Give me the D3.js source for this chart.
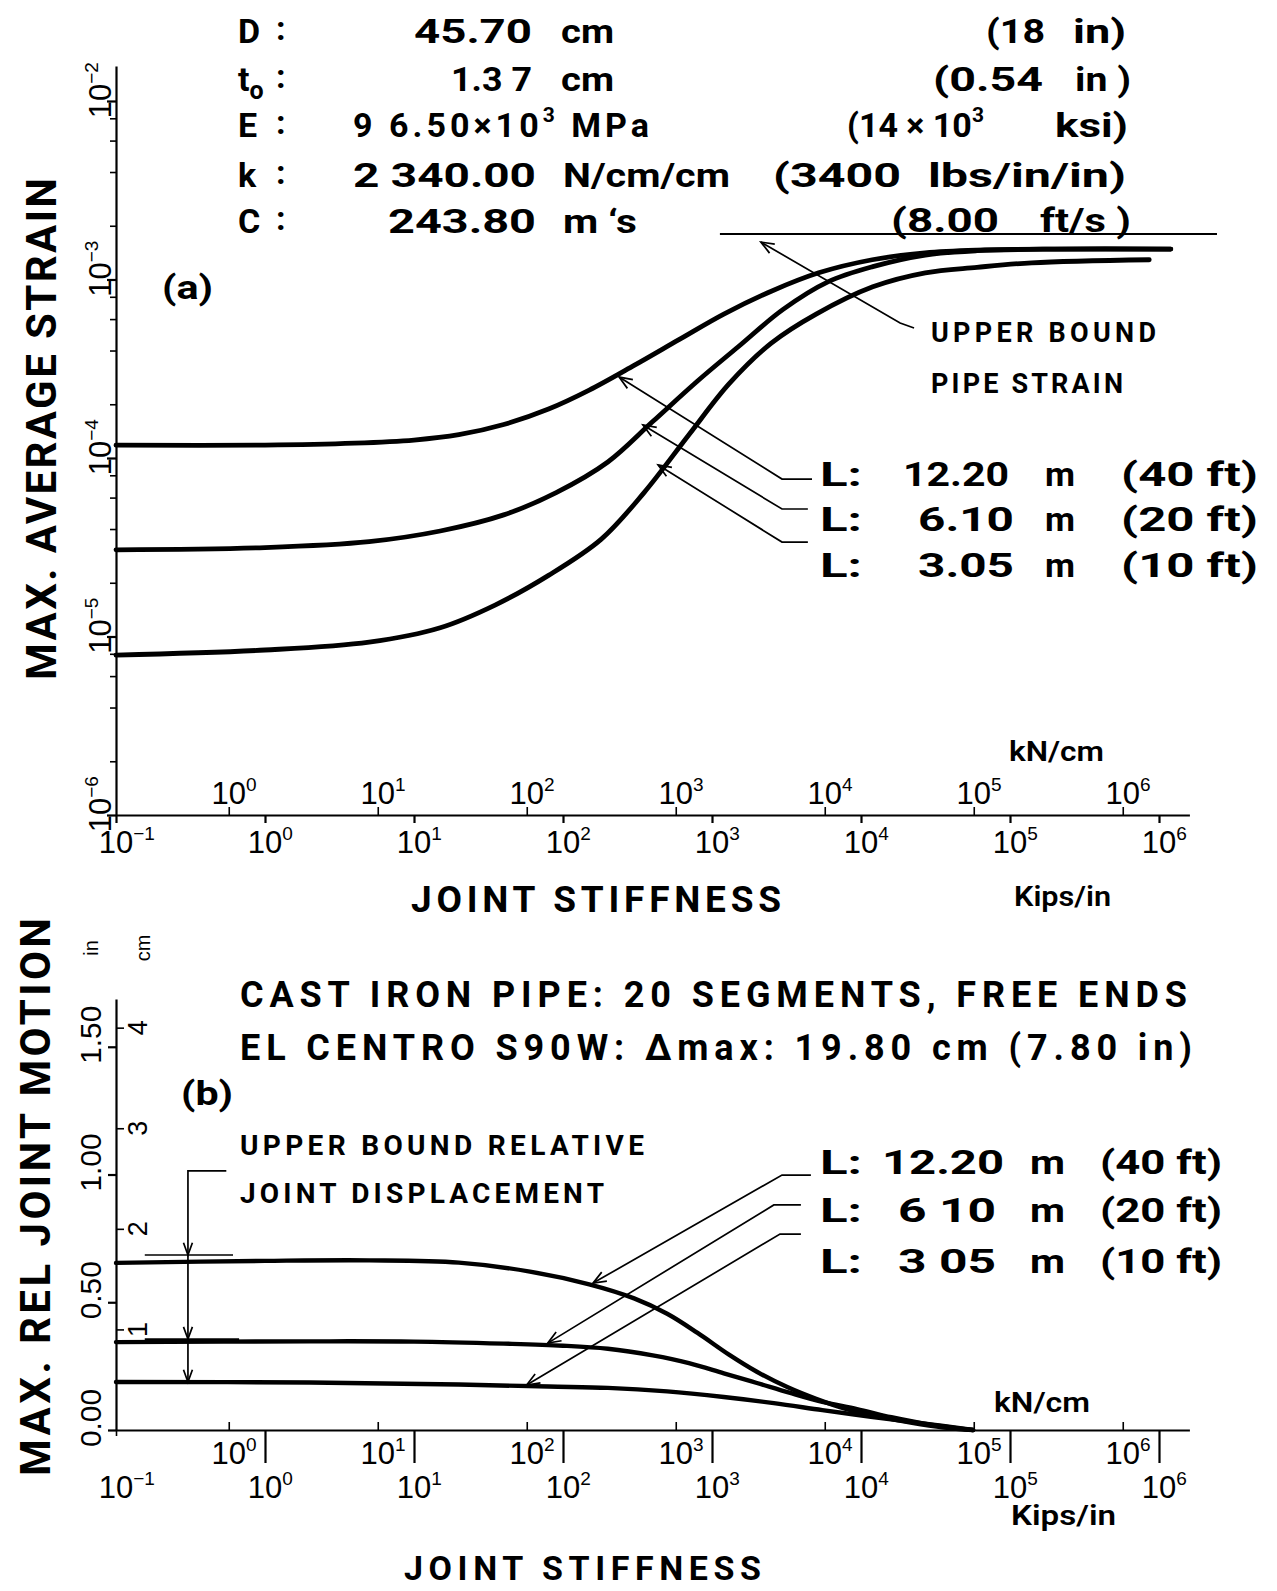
<!DOCTYPE html>
<html><head><meta charset="utf-8">
<script src="https://cdn.jsdelivr.net/npm/d3@7"></script>
<style>body{margin:0;background:#fff}svg{display:block}</style>
</head><body>
<svg id="c" width="1277" height="1591"></svg>
<script>
// ---------------- DATA ----------------
const kipsDecades = [1e-1, 1e0, 1e1, 1e2, 1e3, 1e4, 1e5, 1e6];
const kipsExp = ["\u22121", "0", "1", "2", "3", "4", "5", "6"];
const kNDecades = [1e0, 1e1, 1e2, 1e3, 1e4, 1e5, 1e6];
const kNExp = ["0", "1", "2", "3", "4", "5", "6"];
const KN_PER_KIP = 1.751;
const strainMajor = [1e-6, 1e-5, 1e-4, 1e-3, 1e-2];
const strainExp = ["\u22126", "\u22125", "\u22124", "\u22123", "\u22122"];
const strainMinorMult = [2, 4, 6, 8];
const motionTicksIn = [0, 0.5, 1.0, 1.5];
const motionLabelsIn = ["0.00", "0.50", "1.00", "1.50"];
const motionTicksCm = [1, 2, 3, 4];
const motionLabelsCm = ["1", "2", "3", "4"];
const CM_PER_IN = 2.54;

// (a) max average strain vs joint stiffness (kips/in)
const strainL1220 = [[0.1,1.18e-4],[1,1.18e-4],[4,1.21e-4],[10,1.26e-4],[20,1.35e-4],[40,1.54e-4],[80,1.88e-4],[150,2.4e-4],[300,3.3e-4],[600,4.6e-4],[1200,6.4e-4],[2500,8.6e-4],[5200,1.09e-3],[11900,1.29e-3],[26900,1.41e-3],[60000,1.46e-3],[2e5,1.48e-3],[1.2e6,1.48e-3]];
const strainL610 = [[0.1,3.06e-5],[1,3.15e-5],[5,3.4e-5],[15,3.9e-5],[40,4.8e-5],[90,6.4e-5],[200,9.5e-5],[400,1.6e-4],[800,2.7e-4],[1500,4.2e-4],[3000,6.8e-4],[6000,9.7e-4],[12000,1.18e-3],[27000,1.37e-3],[60000,1.45e-3],[2e5,1.48e-3],[1.2e6,1.48e-3]];
const strainL305 = [[0.1,7.87e-6],[1,8.4e-6],[5,9.3e-6],[15,1.12e-5],[35,1.5e-5],[80,2.2e-5],[180,3.5e-5],[350,6.4e-5],[700,1.35e-4],[1300,2.6e-4],[2500,4.4e-4],[5000,6.4e-4],[12000,9.1e-4],[27000,1.09e-3],[60000,1.17e-3],[1.4e5,1.24e-3],[8.6e5,1.29e-3]];
const upperBoundStrain = 1.8e-3;
const upperBoundStrainSpan = [1130, 2.45e6];

// (b) max relative joint motion (in) vs joint stiffness (kips/in)
const motionL1220 = [[0.1,0.654],[1,0.662],[5,0.664],[20,0.655],[60,0.62],[150,0.57],[300,0.515],[500,0.455],[800,0.38],[1300,0.295],[2000,0.228],[3200,0.168],[5000,0.122],[8000,0.082],[13000,0.053],[22000,0.028],[36000,0.01],[56500,0]];
const motionL610 = [[0.1,0.344],[2,0.347],[10,0.346],[40,0.338],[100,0.33],[200,0.318],[400,0.292],[700,0.262],[1200,0.222],[2000,0.184],[3300,0.146],[5500,0.11],[9400,0.082],[16000,0.05],[30000,0.02],[56500,0]];
const motionL305 = [[0.1,0.188],[2,0.186],[20,0.178],[80,0.17],[200,0.165],[500,0.151],[1200,0.129],[2600,0.105],[5500,0.078],[12000,0.051],[26000,0.026],[56500,0]];
const upperBoundMotion = [0.685, 0.356];

// leader / annotation anchor points (data space)
const leadersA = [
  [[238,2.84e-4],[2950,7.62e-5],[4690,7.62e-5]],
  [[344,1.53e-4],[2950,5.18e-5],[4400,5.18e-5]],
  [[435,9.14e-5],[2950,3.38e-5],[4400,3.38e-5]]
];
const leaderUB_A = [[2130,1.62e-3],[18300,5.7e-4],[22700,5.35e-4]];
const leadersB = [
  [[159,0.575],[2950,0.998],[4610,0.998]],
  [[79,0.34],[2600,0.881],[3950,0.881]],
  [[57,0.176],[2860,0.767],[3950,0.767]]
];

// ---------------- SCALES ----------------
const svg = d3.select("#c");
const x = d3.scaleLog().domain([0.1, 1.6e6]).range([116, 116 + 149 * Math.log10(1.6e7)]);
const xkN = d3.scaleLog().domain(x.domain().map(d => d * KN_PER_KIP)).range(x.range());
const yA = d3.scaleLog().domain([1e-6, Math.pow(10, -1.804)]).range([815, 66]);
const yB = d3.scaleLinear().domain([0, 1.687]).range([1430, 999]);
const yBcm = d3.scaleLinear().domain([0, 1.687 * CM_PER_IN]).range(yB.range());

const TICKFONT = "'Liberation Sans', Arial, sans-serif";
const BOLDFONT = "Roboto, 'DejaVu Sans', sans-serif";

function txt(g, xx, yy, s, size, opts = {}) {
  const t = g.append("text").attr("x", xx).attr("y", yy).text(s)
    .attr("font-size", size)
    .attr("font-family", opts.family || BOLDFONT)
    .attr("font-weight", opts.weight || "bold")
    .attr("fill", "#000");
  if (opts.len) t.attr("textLength", opts.len).attr("lengthAdjust", opts.adj || "spacingAndGlyphs");
  if (opts.anchor) t.attr("text-anchor", opts.anchor);
  return t;
}
function rich(g, xx, yy, parts, len) {
  const t = g.append("text").attr("x", xx).attr("y", yy)
    .attr("font-family", BOLDFONT).attr("font-weight", "bold").attr("fill", "#000");
  parts.forEach(p => t.append("tspan").text(p[0]).attr("font-size", p[1]).attr("dy", p[2] || 0));
  if (len) t.attr("textLength", len).attr("lengthAdjust", "spacing");
  return t;
}
function pow10(g, cx, by, exp) {
  const fs = 31;
  const t = g.append("text").attr("x", cx - 0.556 * fs).attr("y", by)
    .attr("font-family", TICKFONT).attr("font-size", fs).attr("fill", "#000");
  t.append("tspan").text("10");
  t.append("tspan").attr("dy", -13).attr("font-size", 19).text(exp);
}
function styleAxis(g, w) {
  g.selectAll("path,line").attr("stroke", "#000").attr("stroke-width", w);
  g.selectAll("text").remove();
}
function arrowHead(g, tip, from, len = 14, ang = 0.38) {
  const a = Math.atan2(from[1] - tip[1], from[0] - tip[0]);
  const p1 = [tip[0] + len * Math.cos(a + ang), tip[1] + len * Math.sin(a + ang)];
  const p2 = [tip[0] + len * Math.cos(a - ang), tip[1] + len * Math.sin(a - ang)];
  g.append("path").attr("d", `M${p1}L${tip}L${p2}`).attr("fill", "none")
    .attr("stroke", "#000").attr("stroke-width", 1.7);
}
function leader(g, pts, ys) {
  const px = pts.map(p => [x(p[0]), ys(p[1])]);
  g.append("path").attr("d", d3.line()(px)).attr("fill", "none")
    .attr("stroke", "#000").attr("stroke-width", 1.7);
  arrowHead(g, px[0], px[1]);
}

// ---------------- PANEL (a) ----------------
const ga = svg.append("g");
const x0 = x.range()[0];
const axA = ga.append("g").attr("transform", `translate(0,${yA(1e-6)})`)
  .call(d3.axisBottom(x).tickValues(kipsDecades).tickSize(8).tickSizeOuter(0));
styleAxis(axA, 2.2);
const axAkN = ga.append("g").attr("transform", `translate(0,${yA(1e-6)})`)
  .call(d3.axisTop(xkN).tickValues(kNDecades).tickSize(8).tickSizeOuter(0));
axAkN.select(".domain").remove(); styleAxis(axAkN, 1.6);
const minors = [];
strainMajor.slice(0, 4).forEach(m => strainMinorMult.forEach(k => minors.push(m * k)));
const ayA = ga.append("g").attr("transform", `translate(${x0},0)`)
  .call(d3.axisLeft(yA).tickValues(strainMajor).tickSize(9).tickSizeOuter(0));
styleAxis(ayA, 2.2);
const ayAm = ga.append("g").attr("transform", `translate(${x0},0)`)
  .call(d3.axisLeft(yA).tickValues(minors).tickSize(6).tickSizeOuter(0));
ayAm.select(".domain").remove(); styleAxis(ayAm, 1.6);
kipsDecades.forEach((d, i) => pow10(ga, x(d), yA(1e-6) + 38, kipsExp[i]));
kNDecades.forEach((d, i) => pow10(ga, xkN(d), yA(1e-6) - 11, kNExp[i]));
strainMajor.forEach((d, i) => {
  const gg = ga.append("g").attr("transform", `translate(111,${yA(d)}) rotate(-90)`);
  pow10(gg, 0, 0, strainExp[i]);
});
const lineA = d3.line().x(d => x(d[0])).y(d => yA(d[1])).curve(d3.curveCatmullRom.alpha(0.5));
[strainL1220, strainL610, strainL305].forEach(s =>
  ga.append("path").attr("d", lineA(s)).attr("fill", "none").attr("stroke", "#000")
    .attr("stroke-width", 4.8).attr("stroke-linecap", "round"));
ga.append("line").attr("x1", x(upperBoundStrainSpan[0])).attr("x2", x(upperBoundStrainSpan[1]))
  .attr("y1", yA(upperBoundStrain)).attr("y2", yA(upperBoundStrain))
  .attr("stroke", "#000").attr("stroke-width", 2);
leader(ga, leaderUB_A, yA);
leadersA.forEach(l => leader(ga, l, yA));

// parameter block
const P = 34;
const rows = [43, 91, 137, 187, 233];
["D", "", "E", "k", "C"].forEach((s, i) => { if (s) txt(ga, 238, rows[i], s, P); txt(ga, 276, rows[i] - 3, ":", P); });
rich(ga, 238, 91, [["t", P], ["o", 25, 8]]);
txt(ga, 414, 43, "45.70", P, { len: 118 }); txt(ga, 561, 43, "cm", P, { len: 53 });
txt(ga, 986, 43, "(18", P, { len: 59 }); txt(ga, 1073, 43, "in)", P, { len: 53 });
txt(ga, 451, 91, "1.3 7", P, { len: 81 }); txt(ga, 561, 91, "cm", P, { len: 53 });
txt(ga, 933, 91, "(0.54", P, { len: 110 }); txt(ga, 1075, 91, "in )", P, { len: 56 });
rich(ga, 353, 137, [["9 6.50\u00d710", P], ["3", 21, -15], [" MPa", P, 15]], 296);
rich(ga, 847, 137, [["(14 \u00d7 10", P], ["3", 21, -15]]);
txt(ga, 1055, 137, "ksi)", P, { len: 73 });
txt(ga, 353, 187, "2 340.00", P, { len: 183 }); txt(ga, 563, 187, "N/cm/cm", P, { len: 167 });
txt(ga, 773, 187, "(3400", P, { len: 128 }); txt(ga, 928, 187, "lbs/in/in)", P, { len: 198 });
txt(ga, 388, 233, "243.80", P, { len: 148 }); txt(ga, 563, 233, "m \u2018s", P, { len: 74 });
txt(ga, 891, 232, "(8.00", P, { len: 108 }); txt(ga, 1040, 232, "ft/s )", P, { len: 91 });

txt(ga, 162, 299, "(a)", P, { len: 51 });
txt(ga, 931, 342, "UPPER BOUND", 27, { len: 225, adj: "spacing" });
txt(ga, 931, 393, "PIPE STRAIN", 27, { len: 192, adj: "spacing" });
const rowsA = [486, 531, 577];
const Lvals = ["12.20", "6.10", "3.05"], Ftvals = ["(40 ft)", "(20 ft)", "(10 ft)"];
rowsA.forEach((yy, i) => {
  txt(ga, 820, yy, "L:", P, { len: 42 });
  txt(ga, i === 0 ? 903 : 918, yy, Lvals[i], P, { len: i === 0 ? 106 : 96 });
  txt(ga, 1045, yy, "m", P, { len: 30 });
  txt(ga, 1121, yy, Ftvals[i], P, { len: 137 });
});
txt(ga, 1009, 761, "kN/cm", 27, { len: 95, weight: 600 });
txt(ga, 1014, 906, "Kips/in", 27, { len: 97, weight: 600 });
txt(ga, 411, 912, "JOINT STIFFNESS", 37, { len: 370, adj: "spacing" });
ga.append("g").attr("transform", "translate(56,429) rotate(-90)")
  .call(g => txt(g, 0, 0, "MAX. AVERAGE STRAIN", 42, { len: 502, adj: "spacing", anchor: "middle" }));

// ---------------- PANEL (b) ----------------
const gb = svg.append("g");
const axB = gb.append("g").attr("transform", `translate(0,${yB(0)})`)
  .call(d3.axisBottom(x).tickValues(kipsDecades.slice(1)).tickSize(33).tickSizeOuter(0));
styleAxis(axB, 2.2);
const axB0 = gb.append("g").attr("transform", `translate(0,${yB(0)})`)
  .call(d3.axisBottom(x).tickValues([kipsDecades[0]]).tickSize(6).tickSizeOuter(0));
axB0.select(".domain").remove(); styleAxis(axB0, 1.6);
const axBkN = gb.append("g").attr("transform", `translate(0,${yB(0)})`)
  .call(d3.axisTop(xkN).tickValues(kNDecades).tickSize(8).tickSizeOuter(0));
axBkN.select(".domain").remove(); styleAxis(axBkN, 1.6);
const ayB = gb.append("g").attr("transform", `translate(${x0},0)`)
  .call(d3.axisLeft(yB).tickValues(motionTicksIn).tickSize(8).tickSizeOuter(0));
styleAxis(ayB, 2.2);
const ayBcm = gb.append("g").attr("transform", `translate(${x0},0)`)
  .call(d3.axisRight(yBcm).tickValues(motionTicksCm).tickSize(8).tickSizeOuter(0));
ayBcm.select(".domain").remove(); styleAxis(ayBcm, 1.6);
kipsDecades.forEach((d, i) => pow10(gb, x(d), yB(0) + 68, kipsExp[i]));
kNDecades.forEach((d, i) => pow10(gb, xkN(d), yB(0) + 34, kNExp[i]));
motionTicksIn.forEach((d, i) => {
  const gg = gb.append("g").attr("transform", `translate(101,${yB(d) - 12}) rotate(-90)`);
  txt(gg, 0, 0, motionLabelsIn[i], 30, { family: TICKFONT, weight: "normal", anchor: "middle", len: 58 });
});
motionTicksCm.forEach((d, i) => {
  const gg = gb.append("g").attr("transform", `translate(147,${yBcm(d)}) rotate(-90)`);
  txt(gg, 0, 0, motionLabelsCm[i], 27, { family: TICKFONT, weight: "normal", anchor: "middle" });
});
const lineB = d3.line().x(d => x(d[0])).y(d => yB(d[1])).curve(d3.curveCatmullRom.alpha(0.5));
[motionL1220, motionL610, motionL305].forEach(s =>
  gb.append("path").attr("d", lineB(s)).attr("fill", "none").attr("stroke", "#000")
    .attr("stroke-width", 4.4).attr("stroke-linecap", "round"));
const ubX = 0.304;
upperBoundMotion.forEach((v, i) =>
  gb.append("line").attr("x1", x(0.156)).attr("x2", x(i === 0 ? 0.61 : 0.67))
    .attr("y1", yB(v)).attr("y2", yB(v)).attr("stroke", "#000").attr("stroke-width", 1.7));
gb.append("path").attr("d", d3.line()([[x(0.55), yB(1.014)], [x(ubX), yB(1.014)], [x(ubX), yB(0.188)]]))
  .attr("fill", "none").attr("stroke", "#000").attr("stroke-width", 1.7);
[upperBoundMotion[0], upperBoundMotion[1], 0.188].forEach(v =>
  arrowHead(gb, [x(ubX), yB(v)], [x(ubX), yB(v) - 20], 13, 0.35));
leadersB.forEach(l => leader(gb, l, yB));

txt(gb, 240, 1007, "CAST IRON PIPE: 20 SEGMENTS, FREE ENDS", 36, { len: 947, adj: "spacing" });
txt(gb, 240, 1060, "EL CENTRO S90W: \u0394max: 19.80 cm  (7.80 in)", 36, { len: 952, adj: "spacing" });
txt(gb, 181, 1105, "(b)", P, { len: 52 });
txt(gb, 240, 1155, "UPPER BOUND RELATIVE", 28, { len: 404, adj: "spacing" });
txt(gb, 240, 1203, "JOINT DISPLACEMENT", 28, { len: 364, adj: "spacing" });
const rowsB = [1174, 1222, 1273];
const LvalsB = ["12.20", "6 10", "3 05"];
rowsB.forEach((yy, i) => {
  txt(gb, 820, yy, "L:", P, { len: 42 });
  txt(gb, i === 0 ? 882 : 898, yy, LvalsB[i], P, { len: i === 0 ? 122 : 98 });
  txt(gb, 1030, yy, "m", P, { len: 35 });
  txt(gb, 1100, yy, Ftvals[i], P, { len: 122 });
});
txt(gb, 994, 1412, "kN/cm", 27, { len: 96, weight: 600 });
txt(gb, 1011, 1525, "Kips/in", 27, { len: 105, weight: 600 });
txt(gb, 404, 1580, "JOINT STIFFNESS", 34, { len: 357, adj: "spacing" });
gb.append("g").attr("transform", "translate(50,1197) rotate(-90)")
  .call(g => txt(g, 0, 0, "MAX. REL JOINT MOTION", 42, { len: 558, adj: "spacing", anchor: "middle" }));
gb.append("g").attr("transform", "translate(98,948) rotate(-90)")
  .call(g => txt(g, 0, 0, "in", 20, { family: TICKFONT, weight: "normal", anchor: "middle" }));
gb.append("g").attr("transform", "translate(150,948) rotate(-90)")
  .call(g => txt(g, 0, 0, "cm", 20, { family: TICKFONT, weight: "normal", anchor: "middle" }));
</script>
</body></html>
